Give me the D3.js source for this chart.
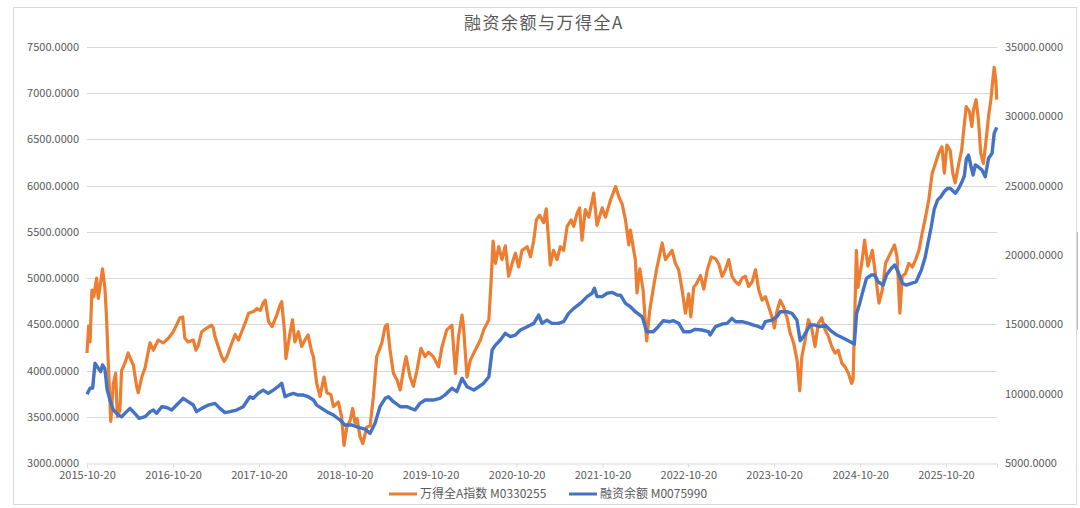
<!DOCTYPE html>
<html lang="zh">
<head>
<meta charset="UTF-8">
<title>融资余额与万得全A</title>
<script src="https://cdn.jsdelivr.net/npm/d3@7/dist/d3.min.js"></script>
<style>
  body { margin: 0; background: #fff; }
  text { font-family: "Noto Sans CJK SC", "Noto Sans", sans-serif; fill: #595959; }
</style>
</head>
<body>
<script>

// 万得全A指数 M0330255 (left axis)
var windA = [
  ["2015-10-20",4190],["2015-10-27",4480],["2015-11-02",4310],["2015-11-10",4870],["2015-11-18",4800],["2015-11-30",5000],["2015-12-07",4780],["2015-12-14",4900],["2015-12-25",5100],
  ["2016-01-04",4900],["2016-01-11",4580],["2016-01-18",4110],["2016-01-29",3450],["2016-02-09",3860],["2016-02-19",3970],["2016-02-26",3500],["2016-03-08",3570],["2016-03-15",4000],["2016-03-29",4080],["2016-04-12",4190],["2016-04-20",4140],["2016-05-04",4060],["2016-05-18",3830],["2016-05-25",3760],["2016-06-09",3930],["2016-06-23",4030],["2016-07-14",4300],["2016-07-28",4220],["2016-08-18",4330],["2016-09-08",4300],["2016-09-30",4350],["2016-10-21",4420],["2016-11-18",4570],["2016-11-30",4580],["2016-12-09",4350],["2016-12-23",4310],
  ["2017-01-14",4330],["2017-01-25",4220],["2017-02-04",4270],["2017-02-19",4420],["2017-03-12",4460],["2017-04-02",4490],["2017-04-09",4460],["2017-04-16",4370],["2017-04-30",4260],["2017-05-15",4150],["2017-05-25",4100],["2017-06-06",4150],["2017-06-27",4300],["2017-07-11",4390],["2017-07-25",4330],["2017-08-08",4420],["2017-08-22",4510],["2017-09-06",4620],["2017-09-27",4640],["2017-10-12",4670],["2017-10-26",4650],["2017-11-07",4730],["2017-11-16",4760],["2017-11-30",4530],["2017-12-15",4475],
  ["2018-01-04",4600],["2018-01-18",4710],["2018-01-25",4745],["2018-02-06",4420],["2018-02-12",4130],["2018-03-01",4400],["2018-03-12",4550],["2018-03-22",4310],["2018-04-06",4420],["2018-04-20",4260],["2018-05-04",4330],["2018-05-17",4385],["2018-06-02",4200],["2018-06-09",4150],["2018-06-23",3860],["2018-07-07",3720],["2018-07-24",3930],["2018-08-05",3760],["2018-08-22",3740],["2018-09-02",3610],["2018-09-23",3660],["2018-10-07",3500],["2018-10-17",3190],["2018-10-29",3390],["2018-11-12",3460],["2018-11-23",3590],["2018-12-03",3430],["2018-12-12",3480],["2018-12-24",3285],
  ["2019-01-05",3210],["2019-01-22",3390],["2019-02-05",3400],["2019-02-19",3720],["2019-03-05",4150],["2019-03-27",4300],["2019-04-10",4475],["2019-04-19",4500],["2019-05-01",4220],["2019-05-15",3970],["2019-05-30",3900],["2019-06-13",3790],["2019-06-27",4010],["2019-07-08",4150],["2019-07-25",3930],["2019-08-08",3830],["2019-08-23",4000],["2019-09-09",4240],["2019-09-27",4150],["2019-10-11",4200],["2019-11-01",4150],["2019-11-23",4040],["2019-12-07",4250],["2019-12-28",4440],
  ["2020-01-19",4490],["2020-02-03",3970],["2020-02-16",4370],["2020-03-02",4600],["2020-03-08",4480],["2020-03-23",3930],["2020-04-06",4110],["2020-04-27",4220],["2020-05-19",4330],["2020-06-02",4440],["2020-06-24",4550],["2020-07-03",4940],["2020-07-12",5400],["2020-07-22",5160],["2020-08-05",5340],["2020-08-19",5200],["2020-09-02",5350],["2020-09-16",5020],["2020-10-01",5160],["2020-10-15",5270],["2020-10-29",5120],["2020-11-12",5300],["2020-12-04",5340],["2020-12-18",5230],
  ["2021-01-01",5410],["2021-01-12",5630],["2021-01-26",5680],["2021-02-12",5600],["2021-02-23",5750],["2021-03-05",5410],["2021-03-12",5140],["2021-03-26",5300],["2021-04-10",5200],["2021-04-24",5340],["2021-05-08",5300],["2021-05-23",5560],["2021-06-09",5630],["2021-06-20",5560],["2021-07-04",5700],["2021-07-15",5760],["2021-07-25",5410],["2021-08-08",5740],["2021-08-23",5660],["2021-09-13",5920],["2021-09-27",5570],["2021-10-19",5760],["2021-11-02",5660],["2021-11-24",5850],["2021-12-15",5990],["2021-12-29",5880],
  ["2022-01-12",5800],["2022-01-26",5630],["2022-02-09",5360],["2022-02-16",5520],["2022-03-02",5300],["2022-03-09",5200],["2022-03-16",4840],["2022-03-28",5100],["2022-04-11",4870],["2022-04-26",4320],["2022-05-09",4650],["2022-05-23",4870],["2022-06-07",5090],["2022-07-01",5380],["2022-07-15",5200],["2022-07-29",5250],["2022-08-12",5300],["2022-08-26",5160],["2022-09-09",5090],["2022-09-24",4870],["2022-10-08",4620],["2022-10-22",4830],["2022-10-31",4580],["2022-11-12",4900],["2022-11-24",4940],["2022-12-11",5030],["2022-12-25",4880],
  ["2023-01-09",5090],["2023-01-26",5230],["2023-02-13",5210],["2023-02-27",5150],["2023-03-13",5020],["2023-03-27",5090],["2023-04-10",5200],["2023-04-24",5020],["2023-05-09",4960],["2023-05-23",4930],["2023-06-06",5000],["2023-06-20",5020],["2023-07-04",4910],["2023-07-19",4960],["2023-08-02",5090],["2023-08-16",4870],["2023-08-30",4760],["2023-09-13",4800],["2023-09-27",4690],["2023-10-11",4580],["2023-10-21",4460],["2023-11-01",4640],["2023-11-15",4760],["2023-11-29",4690],["2023-12-13",4580],["2023-12-28",4400],
  ["2024-01-11",4300],["2024-01-26",4110],["2024-02-06",3780],["2024-02-15",4150],["2024-02-29",4330],["2024-03-14",4550],["2024-03-28",4460],["2024-04-11",4260],["2024-04-25",4510],["2024-05-10",4570],["2024-05-24",4440],["2024-06-07",4370],["2024-06-21",4260],["2024-07-05",4190],["2024-07-19",4220],["2024-08-03",4080],["2024-08-17",4040],["2024-08-31",3970],["2024-09-14",3860],["2024-09-20",3900],["2024-09-27",4580],["2024-10-04",5300],["2024-10-11",4900],["2024-10-18",5020],["2024-10-29",5200],["2024-11-08",5410],["2024-11-22",5130],["2024-12-11",5300],["2024-12-25",5020],
  ["2025-01-08",4730],["2025-01-22",4870],["2025-02-05",5160],["2025-02-26",5270],["2025-03-15",5360],["2025-03-26",5230],["2025-04-07",4620],["2025-04-17",5020],["2025-05-01",5050],["2025-05-15",5160],["2025-05-30",5120],["2025-06-13",5200],["2025-06-27",5300],["2025-07-11",5490],["2025-07-25",5660],["2025-08-08",5850],["2025-08-22",6130],["2025-09-05",6240],["2025-09-19",6350],["2025-10-03",6420],["2025-10-13",6135],["2025-10-24",6440],["2025-11-07",6380],["2025-11-18",6135],["2025-11-28",6030],["2025-12-12",6220],["2025-12-26",6390],
  ["2026-01-05",6640],["2026-01-14",6855],["2026-01-28",6800],["2026-02-07",6640],["2026-02-14",6820],["2026-02-25",6930],["2026-03-07",6710],["2026-03-17",6350],["2026-03-28",6240],["2026-04-09",6500],["2026-04-19",6750],["2026-04-29",6930],["2026-05-07",7140],["2026-05-13",7280],["2026-05-20",7140],["2026-05-24",6930]
];

// 融资余额 M0075990 (right axis)
var finBal = [
  ["2015-10-20",9950],["2015-11-02",10390],["2015-11-13",10400],["2015-11-23",12190],["2015-12-07",11830],["2015-12-17",11590],["2015-12-25",12070],
  ["2016-01-04",11800],["2016-01-14",10260],["2016-01-26",9540],["2016-02-09",8820],["2016-03-01",8460],["2016-03-15",8340],["2016-03-29",8580],["2016-04-20",8940],["2016-05-10",8580],["2016-05-29",8220],["2016-06-23",8340],["2016-07-14",8700],["2016-07-28",8820],["2016-08-11",8580],["2016-09-02",9060],["2016-09-23",9000],["2016-10-14",8820],["2016-11-04",9180],["2016-12-02",9660],["2016-12-23",9420],
  ["2017-01-14",9180],["2017-01-28",8700],["2017-02-19",8940],["2017-03-19",9180],["2017-04-16",9300],["2017-05-07",8940],["2017-05-29",8630],["2017-06-19",8700],["2017-07-17",8820],["2017-08-14",9060],["2017-09-12",9780],["2017-09-26",9660],["2017-10-17",10020],["2017-11-07",10260],["2017-11-29",10020],["2017-12-20",10260],
  ["2018-01-09",10500],["2018-01-25",10750],["2018-02-08",9780],["2018-02-22",9900],["2018-03-15",10020],["2018-04-06",9900],["2018-04-27",9900],["2018-05-18",9780],["2018-06-09",9540],["2018-06-23",9180],["2018-07-14",8940],["2018-08-05",8700],["2018-09-02",8460],["2018-09-30",8100],["2018-10-21",7740],["2018-11-19",7740],["2018-12-17",7570],
  ["2019-01-14",7450],["2019-02-05",7140],["2019-02-26",7860],["2019-03-19",9060],["2019-04-10",9660],["2019-04-24",9780],["2019-05-15",9420],["2019-06-13",9060],["2019-07-11",9060],["2019-08-15",8820],["2019-09-05",9300],["2019-09-27",9540],["2019-11-01",9540],["2019-11-29",9660],["2019-12-20",9900],
  ["2020-01-19",10390],["2020-02-09",10150],["2020-03-02",11100],["2020-03-23",10500],["2020-04-21",10260],["2020-05-12",10500],["2020-06-02",10750],["2020-06-24",11220],["2020-07-08",13150],["2020-07-22",13500],["2020-08-12",13870],["2020-09-02",14350],["2020-09-23",14110],["2020-10-15",14230],["2020-11-05",14590],["2020-12-04",14830],
  ["2021-01-01",15070],["2021-01-22",15670],["2021-02-05",15070],["2021-02-26",15310],["2021-03-19",15070],["2021-04-16",15070],["2021-05-08",15190],["2021-05-29",15790],["2021-06-20",16150],["2021-07-18",16510],["2021-08-16",17000],["2021-09-06",17240],["2021-09-16",17600],["2021-09-27",17000],["2021-10-19",17000],["2021-11-09",17240],["2021-12-01",17300],["2021-12-22",17120],
  ["2022-01-05",17100],["2022-01-26",16510],["2022-02-16",16270],["2022-03-09",15910],["2022-04-06",15550],["2022-04-12",15300],["2022-04-26",14470],["2022-05-24",14470],["2022-06-14",14830],["2022-07-06",15260],["2022-08-03",15190],["2022-08-18",15260],["2022-09-09",15080],["2022-09-30",14470],["2022-10-28",14470],["2022-11-18",14640],["2022-12-17",14590],
  ["2023-01-14",14470],["2023-01-21",14230],["2023-02-13",14830],["2023-03-13",15020],["2023-04-03",15070],["2023-04-24",15430],["2023-05-09",15190],["2023-06-06",15190],["2023-07-04",15070],["2023-07-25",14950],["2023-08-16",14830],["2023-08-30",14710],["2023-09-13",15190],["2023-10-11",15310],["2023-11-01",15550],["2023-11-15",15910],["2023-12-13",15910],
  ["2024-01-04",15790],["2024-01-25",15310],["2024-02-08",13820],["2024-02-22",14110],["2024-03-21",14950],["2024-04-11",14950],["2024-05-02",14830],["2024-05-24",14950],["2024-06-14",14590],["2024-07-13",14230],["2024-08-10",13990],["2024-09-08",13750],["2024-09-25",13580],["2024-10-05",15790],["2024-10-18",16510],["2024-11-02",17470],["2024-11-16",18320],["2024-12-07",18560],["2024-12-21",18560],
  ["2025-01-04",18070],["2025-01-26",17830],["2025-02-09",18560],["2025-03-02",19040],["2025-03-16",19280],["2025-03-30",18800],["2025-04-17",17960],["2025-05-04",17830],["2025-05-25",17960],["2025-06-15",18070],["2025-07-07",18900],["2025-07-23",19800],["2025-08-05",20900],["2025-08-18",22000],["2025-08-31",23300],["2025-09-14",23960],["2025-09-28",24200],["2025-10-12",24560],["2025-10-26",24800],["2025-11-08",24800],["2025-11-22",24560],["2025-11-29",24450],["2025-12-13",24800],["2025-12-27",25280],
  ["2026-01-06",25700],["2026-01-15",26970],["2026-01-24",27200],["2026-02-02",26500],["2026-02-12",25770],["2026-02-22",26490],["2026-03-07",26350],["2026-03-22",26130],["2026-04-05",25640],["2026-04-19",26970],["2026-05-04",27330],["2026-05-13",28770],["2026-05-24",29200]
];

var xTicks = ["2015-10-20","2016-10-20","2017-10-20","2018-10-20","2019-10-20","2020-10-20",
              "2021-10-20","2022-10-20","2023-10-20","2024-10-20","2025-10-20"];
var leftTicks = [3000, 3500, 4000, 4500, 5000, 5500, 6000, 6500, 7000, 7500];
var rightTicks = [5000, 10000, 15000, 20000, 25000, 30000, 35000];
var seriesNames = ["万得全A指数 M0330255", "融资余额 M0075990"];
var colors = ["#ED7D31", "#4472C4"];

var parse = d3.utcParse("%Y-%m-%d");
var W = 1080, H = 508;
var plotL = 87, plotR = 997, plotT = 47, plotB = 463;

var svg = d3.select("body").append("svg")
    .attr("width", W)
    .attr("height", H);

// chart frame
svg.append("rect")
    .attr("x", 13.5).attr("y", 7.5)
    .attr("width", 1063).attr("height", 497)
    .attr("fill", "#fff")
    .attr("stroke", "#d9d9d9");
svg.append("line")
    .attr("x1", 1077.5).attr("x2", 1077.5).attr("y1", 232).attr("y2", 330)
    .attr("stroke", "#bfbfbf");

var x = d3.scaleUtc()
    .domain([parse("2015-10-20"), parse("2026-05-25")])
    .range([plotL, plotR]);
var yL = d3.scaleLinear().domain([3000, 7500]).range([plotB, plotT]);
var yR = d3.scaleLinear().domain([5000, 35000]).range([plotB, plotT]);
var fmt = d3.format(".4f");

// gridlines
svg.append("g").selectAll("line")
    .data(leftTicks.slice(1))
    .enter().append("line")
    .attr("x1", plotL).attr("x2", plotR)
    .attr("y1", function(d) { return Math.round(yL(d)) + 0.5; })
    .attr("y2", function(d) { return Math.round(yL(d)) + 0.5; })
    .attr("stroke", "#d9d9d9");

// left axis
var gL = svg.append("g")
    .attr("transform", "translate(" + (plotL - 8) + ",0)")
    .call(d3.axisLeft(yL).tickValues(leftTicks).tickFormat(fmt).tickSize(0).tickPadding(0));
gL.select(".domain").remove();
gL.selectAll("text").attr("font-size", 11);

// right axis
var gR = svg.append("g")
    .attr("transform", "translate(" + (plotR + 8) + ",0)")
    .call(d3.axisRight(yR).tickValues(rightTicks).tickFormat(fmt).tickSize(0).tickPadding(0));
gR.select(".domain").remove();
gR.selectAll("text").attr("font-size", 11);

// bottom axis
var gX = svg.append("g")
    .attr("transform", "translate(0," + (plotB + 0.5) + ")")
    .call(d3.axisBottom(x).tickValues(xTicks.map(parse))
        .tickFormat(d3.utcFormat("%Y-%m-%d")).tickSize(4).tickPadding(4));
gX.select(".domain").attr("stroke", "#d9d9d9");
gX.selectAll(".tick line").attr("stroke", "#d9d9d9");
gX.selectAll("text").attr("font-size", 11);

// lines
var lineL = d3.line()
    .x(function(d) { return x(parse(d[0])); })
    .y(function(d) { return yL(d[1]); });
var lineR = d3.line()
    .x(function(d) { return x(parse(d[0])); })
    .y(function(d) { return yR(d[1]); });

svg.append("path")
    .datum(windA)
    .attr("d", lineL)
    .attr("fill", "none")
    .attr("stroke", colors[0])
    .attr("stroke-width", 3.2)
    .attr("stroke-linejoin", "round");

svg.append("path")
    .datum(finBal)
    .attr("d", lineR)
    .attr("fill", "none")
    .attr("stroke", colors[1])
    .attr("stroke-width", 3.4)
    .attr("stroke-linejoin", "round");

// title
svg.append("text")
    .attr("x", 544).attr("y", 29)
    .attr("text-anchor", "middle")
    .attr("font-size", 17)
    .attr("letter-spacing", 1.5)
    .text("融资余额与万得全A");

// legend
var legX = [389, 569];
var leg = svg.append("g").selectAll("g")
    .data(seriesNames)
    .enter().append("g")
    .attr("transform", function(d, i) { return "translate(" + legX[i] + ",494)"; });
leg.append("line")
    .attr("x1", 0).attr("x2", 28)
    .attr("stroke", function(d, i) { return colors[i]; })
    .attr("stroke-width", 3);
leg.append("text")
    .attr("x", 31).attr("dy", "0.35em")
    .attr("font-size", 12)
    .text(function(d) { return d; });

</script>
</body>
</html>
